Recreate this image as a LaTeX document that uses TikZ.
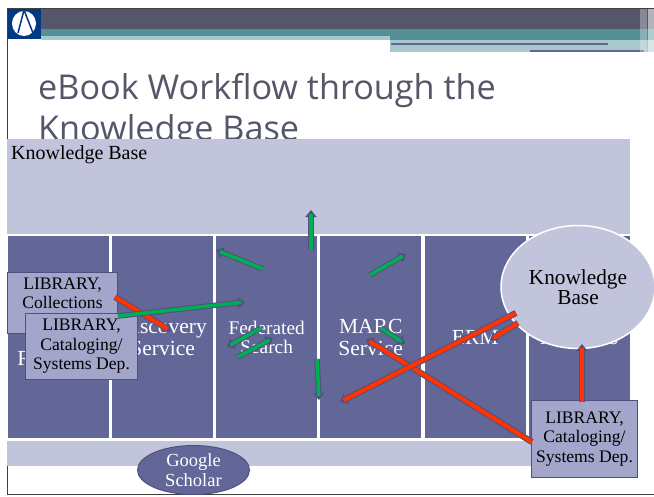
\documentclass[tikz,border=0pt]{standalone}
\usepackage{fontspec}
\setmainfont{Liberation Serif}
\newfontfamily\titlefont{Open Sans}
\usetikzlibrary{arrows.meta,shapes.geometric,calc}
\definecolor{bandb}{HTML}{555669}
\definecolor{teal}{HTML}{528F97}
\definecolor{pale}{HTML}{A9C8CC}
\definecolor{logo}{HTML}{013A82}
\definecolor{panel}{HTML}{C2C4DB}
\definecolor{col}{HTML}{636798}
\definecolor{libbox}{HTML}{A3A5CA}
\definecolor{edge}{HTML}{4E5180}
\definecolor{arrgreen}{HTML}{00B050}
\definecolor{arrred}{HTML}{FF3300}
\tikzset{
  columnbox/.style={fill=col,draw=none,minimum height=202pt,minimum width=101pt,inner sep=0pt,anchor=north west,text=white,font=\fontsize{21.5}{22}\selectfont,align=center,text width=96pt},
  libnode/.style={fill=libbox,draw=edge,line width=1pt,inner sep=0pt,align=center,font=\fontsize{17.6}{19.5}\selectfont,anchor=north west},
  halo/.style={line width=5.5pt,draw=edge,-{Triangle[length=7pt,width=11pt]}},
  haloB/.style={line width=6.2pt,draw=edge,-{Triangle[length=7pt,width=11pt]}},
  greenline/.style={line width=3.5pt,draw=arrgreen},
  redline/.style={line width=4.2pt,draw=arrred},
  titletext/.style={anchor=base west,inner sep=0pt,font=\titlefont\fontsize{34.2}{35}\selectfont,text=bandb}
}
\newcommand{\flowg}[2]{%
  \draw[halo] (#1) -- (#2);
  \draw[greenline] (#1) -- ($(#2)!4pt!(#1)$);}
\newcommand{\flowr}[2]{%
  \draw[haloB] (#1) -- (#2);
  \draw[redline] (#1) -- ($(#2)!4pt!(#1)$);}
\begin{document}
\begin{tikzpicture}[x=1pt,y=-1pt]
\useasboundingbox (0,0) rectangle (654,496);
\fill[white] (0,0) rectangle (654,496);
% header
\fill[bandb] (41,8) rectangle (654,29);
\fill[teal] (41,29) rectangle (654,36);
\fill[teal] (390,36) rectangle (654,40);
\fill[pale] (41,36) rectangle (390,40);
\fill[pale] (390,40) rectangle (654,52);
\fill[col] (391,43) rectangle (608,45);
\fill[col] (530,50) rectangle (644,52);
\fill[white,opacity=.3] (640,8) rectangle (647,52);
\fill[white,opacity=.55] (648,8) rectangle (654,52);
\fill[logo] (7.5,8) rectangle (41,39);
\node[ellipse,fill=white,minimum width=24pt,minimum height=25pt,inner sep=0pt] (logoegg) at (24,23.5) {};
\draw[logo,line width=1.5pt] (24,10) -- (18,33) (24,10) -- (33,33);
\draw[black!75] (7,8) -- (654,8) (7,8) -- (7,494) -- (654,494);
% title
\node[titletext] (titleA) at (38,99) {eBook Workflow through the};
\node[titletext] (titleB) at (38,140) {Knowledge Base};
% panels
\fill[panel] (7,139) rectangle (630,466);
\node[anchor=base west,inner sep=0pt,font=\fontsize{20}{22}\selectfont] (kbl) at (11,159) {Knowledge Base};
% columns
\fill[white] (7,233.5) rectangle (630,441);
\node[columnbox,font=\fontsize{21.5}{28}\selectfont] (c1) at (7.5,236) {~\\Link\\\hspace{3pt}Resolvers};
\node[columnbox] (c2) at (112,236) {Discovery\\Service};
\node[columnbox,font=\fontsize{19.3}{19.5}\selectfont] (c3) at (216,236) {Federated\\Search};
\node[columnbox] (c4) at (320,236) {MARC\\Service};
\node[columnbox] (c5) at (424.5,236) {ERM};
\node[columnbox] (c6) at (528.5,236) {Archives};
% ellipses
\node[ellipse,fill=panel,draw=white,line width=1.5pt,minimum width=154pt,minimum height=123pt,inner sep=0pt,align=center,font=\fontsize{21.3}{20.5}\selectfont] (kb) at (578,287) {Knowledge\\Base};
\node[ellipse,fill=col,draw=edge,line width=1pt,minimum width=112pt,minimum height=49pt,inner sep=0pt,align=center,text=white,font=\fontsize{18.5}{19.5}\selectfont] (gs) at (193.5,470) {Google\\Scholar};
% library boxes
\node[libnode,minimum width=110pt,minimum height=61pt] (lc) at (7,272) {LIBRARY,\\Collections\\~};
\node[libnode,minimum width=112pt,minimum height=66pt] (lsa) at (25,313) {LIBRARY,\\Cataloging/\\Systems Dep.};
\node[libnode,minimum width=106pt,minimum height=77pt] (lsb) at (531,400) {LIBRARY,\\Cataloging/\\Systems Dep.};
% connector ends
\coordinate (a1s) at (311,250); \coordinate (a1e) at (311,210);
\coordinate (a2s) at (263,269); \coordinate (a2e) at (216,250);
\coordinate (a3s) at (370,275); \coordinate (a3e) at (406,254);
\coordinate (a4s) at (118,316); \coordinate (a4e) at (245,302);
\coordinate (a5s) at (261,328); \coordinate (a5e) at (227,347);
\coordinate (a6s) at (238,357); \coordinate (a6e) at (273,338);
\coordinate (a7s) at (317,359); \coordinate (a7e) at (319,400);
\coordinate (a8s) at (381,328); \coordinate (a8e) at (405,344);
\coordinate (r1s) at (115,297); \coordinate (r1e) at (171,331);
\coordinate (r2s) at (516,313); \coordinate (r2e) at (340,402);
\coordinate (r3s) at (518,323); \coordinate (r3e) at (490,340);
\coordinate (r4s) at (532,442); \coordinate (r4e) at (366,339);
\coordinate (r5s) at (582,402); \coordinate (r5e) at (582,344);
% connectors
\flowr{r1s}{r1e}
\flowg{a4s}{a4e}
\flowg{a1s}{a1e}
\flowg{a2s}{a2e}
\flowg{a3s}{a3e}
\flowg{a5s}{a5e}
\flowg{a6s}{a6e}
\flowg{a7s}{a7e}
\flowg{a8s}{a8e}
\flowr{r4s}{r4e}
\flowr{r2s}{r2e}
\flowr{r3s}{r3e}
\flowr{r5s}{r5e}
\end{tikzpicture}
\end{document}
